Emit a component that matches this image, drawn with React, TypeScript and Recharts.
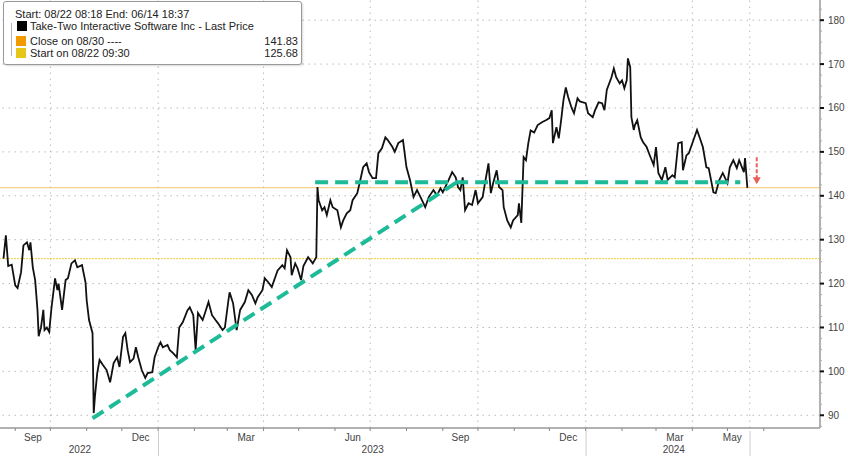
import { LineChart, Line, XAxis, YAxis, ReferenceLine, ReferenceDot } from "recharts";

// x = days counted from 2022-08-19 (left edge of the plot)
const priceDays = [
  3, 5, 7, 10, 13, 15, 18, 20, 23, 25, 26, 28, 30, 32, 33, 35, 37, 38, 40, 42,
  44, 47, 49, 50, 53, 56, 58, 61, 64, 66, 70, 73, 74, 76, 79, 80, 81, 83, 85, 88,
  91, 94, 97, 100, 102, 105, 107, 109, 111, 114, 116, 118, 121, 124, 126, 130, 132, 135, 137, 139,
  143, 145, 148, 151, 153, 156, 160, 162, 165, 167, 169, 173, 175, 178, 181, 184, 186, 190, 192, 195,
  196, 199, 202, 205, 209, 212, 215, 218, 220, 224, 226, 229, 232, 235, 237, 241, 243, 245, 248, 249,
  252, 254, 257, 259, 263, 267, 270, 271, 272, 275, 277, 279, 282, 284, 288, 291, 293, 296, 299, 301,
  305, 307, 310, 313, 315, 318, 321, 323, 326, 329, 331, 335, 337, 340, 344, 347, 350, 353, 356, 359,
  363, 366, 370, 373, 376, 378, 383, 386, 389, 391, 393, 395, 397, 400, 403, 406, 408, 412, 414, 417,
  419, 421, 424, 426, 429, 430, 433, 436, 438, 442, 443, 445, 447, 449, 451, 453, 456, 459, 463, 466,
  469, 471, 472, 475, 477, 479, 481, 483, 485, 488, 490, 493, 495, 500, 502, 506, 508, 511, 514, 516,
  518, 522, 524, 526, 529, 531, 533, 535, 536, 538, 539, 541, 542, 544, 547, 549, 552, 554, 558, 560,
  562, 565, 568, 570, 574, 576, 579, 582, 583, 586, 588, 592, 595, 598, 600, 603, 605, 609, 611, 614,
  617, 621, 623, 626, 629, 631, 635, 636, 638,
];
const priceValues = [
  125.7, 131.0, 124.0, 124.3, 119.6, 119.0, 122.6, 128.7, 129.4, 127.6, 129.4, 123.7, 120.8, 114.0, 108.0, 110.0, 114.0, 109.4, 110.0, 109.0,
  114.6, 121.2, 118.5, 120.0, 114.0, 120.8, 121.2, 124.6, 125.3, 123.7, 124.2, 120.3, 116.2, 111.7, 108.7, 90.5, 94.1, 99.6, 102.6, 101.4,
  100.3, 97.5, 101.9, 103.2, 101.0, 107.8, 108.7, 104.8, 102.1, 102.9, 105.5, 103.2, 100.3, 98.5, 99.6, 99.8, 103.2, 105.5, 106.6, 105.5,
  106.0, 104.8, 104.1, 103.2, 110.0, 111.2, 113.9, 114.6, 112.8, 104.8, 113.3, 111.7, 113.3, 115.8, 112.8, 111.7, 111.0, 109.4, 110.0, 116.2,
  118.0, 115.5, 109.4, 114.0, 115.8, 118.5, 117.4, 115.5, 116.9, 118.5, 121.2, 120.3, 119.2, 121.5, 123.0, 124.2, 123.5, 127.6, 126.0, 121.9,
  124.6, 123.5, 120.8, 124.0, 126.0, 124.6, 126.0, 142.0, 139.0, 136.7, 137.4, 135.6, 139.0, 137.4, 136.7, 132.8, 134.4, 136.0, 136.7, 139.0,
  140.6, 142.9, 146.5, 147.4, 145.4, 144.0, 144.0, 149.7, 150.8, 153.3, 152.7, 151.1, 150.0, 152.0, 152.7, 146.5, 143.6, 139.7, 141.3, 139.7,
  137.4, 139.7, 141.3, 140.1, 141.7, 140.8, 143.6, 145.4, 144.2, 142.0, 141.3, 144.2, 136.7, 138.3, 137.9, 141.3, 138.3, 139.7, 142.9, 147.4,
  140.6, 142.9, 145.8, 142.0, 141.3, 137.4, 134.4, 132.8, 134.4, 135.6, 138.3, 133.8, 148.8, 148.1, 152.0, 154.9, 154.4, 156.1, 156.8, 157.2,
  157.7, 159.5, 152.0, 155.6, 153.1, 157.2, 161.8, 164.7, 162.5, 160.0, 158.8, 162.2, 161.5, 161.1, 158.8, 157.9, 159.5, 161.3, 161.1, 159.5,
  164.1, 167.0, 169.0, 167.0, 165.6, 166.3, 164.5, 166.3, 171.3, 169.3, 157.9, 155.0, 156.1, 157.2, 153.3, 152.2, 151.1, 149.7, 147.0, 151.1,
  145.2, 143.6, 146.5, 143.6, 144.7, 144.2, 152.0, 152.2, 145.8, 149.2, 149.7, 152.7, 155.0, 152.7, 151.1, 146.5, 146.3, 140.8, 140.6, 143.6,
  145.2, 142.9, 146.5, 148.1, 146.3, 148.1, 145.4, 148.6, 141.8,
];

const closeValue = 141.83;
const startValue = 125.68;

// annotation lines
const trendDays = [79, 390];
const trendValues = [89.3, 143.1];
const supportDays = [269, 632];
const supportValue = 143.1;
const arrowDay = 646;
const arrowFrom = 148.8;
const arrowTo = 142.6;

// axes
const monthStarts = [13, 43, 74, 104, 135, 166, 194, 225, 255, 286, 316, 347, 378, 408, 439, 469, 500, 531, 560, 591, 621, 652];
const gridDays = [43, 135, 225, 316, 408, 500, 591, 640];
const monthLabels = ["Sep", "Dec", "Mar", "Jun", "Sep", "Dec", "Mar", "May"];
const monthLabelDays = [28, 120, 210, 301, 393, 485, 576, 625];
const yearLabels = ["2022", "2023", "2024"];
const yearLabelDays = [68, 318, 575];
const yearBreaks = [135, 500, 640];
const yTicks = [90, 100, 110, 120, 130, 140, 150, 160, 170, 180];
const yMinorTicks = [87.5, 92.5, 95, 97.5, 102.5, 105, 107.5, 112.5, 115, 117.5, 122.5, 125, 127.5, 132.5, 135, 137.5, 142.5, 145, 147.5, 152.5, 155, 157.5, 162.5, 165, 167.5, 172.5, 175, 177.5, 182.5];

const data = priceDays.map((d, i) => ({ day: d, price: priceValues[i] }));

const TEAL = "#1dbb98";
const FONT = "'Liberation Sans', Arial, sans-serif";

const xTicks = [...monthStarts, ...monthLabelDays.map((d) => d + 0.1), ...yearLabelDays.map((d) => d + 0.2), ...yearBreaks.map((d) => d + 0.3)];

function XTick(props: any) {
  const { x, y, payload } = props;
  const v = payload.value;
  const mi = monthLabelDays.indexOf(Math.round((v - 0.1) * 10) / 10);
  const yi = yearLabelDays.indexOf(Math.round((v - 0.2) * 10) / 10);
  const bi = yearBreaks.indexOf(Math.round((v - 0.3) * 10) / 10);
  if (monthStarts.includes(v)) {
    return <line x1={x} x2={x} y1={y} y2={y + 3} stroke="#888" strokeWidth={1} />;
  }
  if (mi >= 0 && Math.abs(v - monthLabelDays[mi] - 0.1) < 0.01) {
    return (
      <text x={x} y={y + 13} textAnchor="middle" fontSize={10} fill="#444" fontFamily={FONT}>
        {monthLabels[mi]}
      </text>
    );
  }
  if (yi >= 0) {
    return (
      <text x={x} y={y + 25} textAnchor="middle" fontSize={10} fill="#444" fontFamily={FONT}>
        {yearLabels[yi]}
      </text>
    );
  }
  if (bi >= 0) {
    return <line x1={x} x2={x} y1={y + 3} y2={y + 28} stroke="#ccc" strokeWidth={1} />;
  }
  return null;
}

function YTick(props: any) {
  const { x, y, payload } = props;
  const v = payload.value;
  if (yTicks.includes(v)) {
    return (
      <g>
        <line x1={x} x2={x + 4} y1={y} y2={y} stroke="#111" strokeWidth={2} />
        <text x={x + 8} y={y + 3.5} fontSize={10} fill="#444" fontFamily={FONT}>
          {v}
        </text>
      </g>
    );
  }
  return <line x1={x} x2={x + 2} y1={y} y2={y} stroke="#aaa" strokeWidth={1} />;
}

function ArrowHead(props: any) {
  const { cx, cy } = props;
  return <path d={`M${cx - 4},${cy - 7} L${cx + 4},${cy - 7} L${cx},${cy} Z`} fill="#e8605a" />;
}

export default function App() {
  return (
    <div style={{ position: "absolute", left: 0, top: 0, width: 848, height: 456, background: "#fff" }}>
      <LineChart width={848} height={456} data={data} margin={{ top: 0, right: 0, bottom: 0, left: 0 }}>
        <XAxis
          dataKey="day"
          type="number"
          domain={[0, 700]}
          ticks={xTicks}
          interval={0}
          tick={<XTick />}
          tickLine={false}
          tickSize={0}
          tickMargin={0}
          height={28}
          axisLine={{ stroke: "#999", strokeWidth: 1.5 }}
          allowDataOverflow
        />
        <YAxis
          orientation="right"
          type="number"
          domain={[87.1, 184.6]}
          ticks={[...yMinorTicks, ...yTicks].sort((a, b) => a - b)}
          interval={0}
          tick={<YTick />}
          tickLine={false}
          tickSize={0}
          tickMargin={0}
          width={28}
          axisLine={{ stroke: "#999", strokeWidth: 1.5 }}
          allowDataOverflow
        />
        {yTicks.map((t) => (
          <ReferenceLine key={"h" + t} y={t} stroke="#bbb" strokeDasharray="1.5 4.5" />
        ))}
        {gridDays.map((d) => (
          <ReferenceLine key={"v" + d} x={d} stroke="#bbb" strokeDasharray="1.5 4.5" />
        ))}
        <ReferenceLine y={closeValue} stroke="#f3c46a" strokeWidth={1} />
        <ReferenceLine y={startValue} stroke="#eecb3a" strokeWidth={1} strokeDasharray="2 1" />
        <Line
          dataKey="price"
          stroke="#111"
          strokeWidth={1.8}
          dot={false}
          activeDot={false}
          isAnimationActive={false}
        />
        <ReferenceLine
          segment={[
            { x: trendDays[0], y: trendValues[0] },
            { x: trendDays[1], y: trendValues[1] },
          ]}
          stroke={TEAL}
          strokeWidth={4}
          strokeDasharray="13 7"
        />
        <ReferenceLine
          segment={[
            { x: supportDays[0], y: supportValue },
            { x: supportDays[1], y: supportValue },
          ]}
          stroke={TEAL}
          strokeWidth={4}
          strokeDasharray="13 7"
        />
        <ReferenceLine
          segment={[
            { x: arrowDay, y: arrowFrom },
            { x: arrowDay, y: arrowTo + 1.4 },
          ]}
          stroke="#e8605a"
          strokeWidth={2}
          strokeDasharray="4 2"
        />
        <ReferenceDot x={arrowDay} y={arrowTo} r={4} shape={<ArrowHead />} />
      </LineChart>

      {/* legend box */}
      <div
        style={{
          position: "absolute",
          left: 3,
          top: 1,
          width: 297,
          height: 62,
          border: "1px solid #999",
          borderRadius: 3,
          background: "#fff",
          boxShadow: "1px 1px 2px rgba(0,0,0,0.15)",
        }}
      />
      <div style={{ position: "absolute", left: 0, top: 0, fontFamily: FONT, fontSize: 11, color: "#222", lineHeight: "12px" }}>
        <div style={{ position: "absolute", left: 15, top: 8, whiteSpace: "nowrap" }}>Start: 08/22 08:18 End: 06/14 18:37</div>
        <div style={{ position: "absolute", left: 11, top: 23, width: 1, height: 33, background: "#bbb" }} />
        <div style={{ position: "absolute", left: 17, top: 21, width: 10, height: 10, background: "#000" }} />
        <div style={{ position: "absolute", left: 30, top: 20, whiteSpace: "nowrap" }}>Take-Two Interactive Software Inc - Last Price</div>
        <div style={{ position: "absolute", left: 16, top: 36, width: 10, height: 10, background: "#f39a00" }} />
        <div style={{ position: "absolute", left: 30, top: 35, whiteSpace: "nowrap" }}>Close on 08/30 ----</div>
        <div style={{ position: "absolute", left: 240, top: 35, width: 58, textAlign: "right" }}>141.83</div>
        <div style={{ position: "absolute", left: 16, top: 48, width: 10, height: 10, background: "#e6c619" }} />
        <div style={{ position: "absolute", left: 30, top: 47, whiteSpace: "nowrap" }}>Start on 08/22 09:30</div>
        <div style={{ position: "absolute", left: 240, top: 47, width: 58, textAlign: "right" }}>125.68</div>
      </div>
    </div>
  );
}
